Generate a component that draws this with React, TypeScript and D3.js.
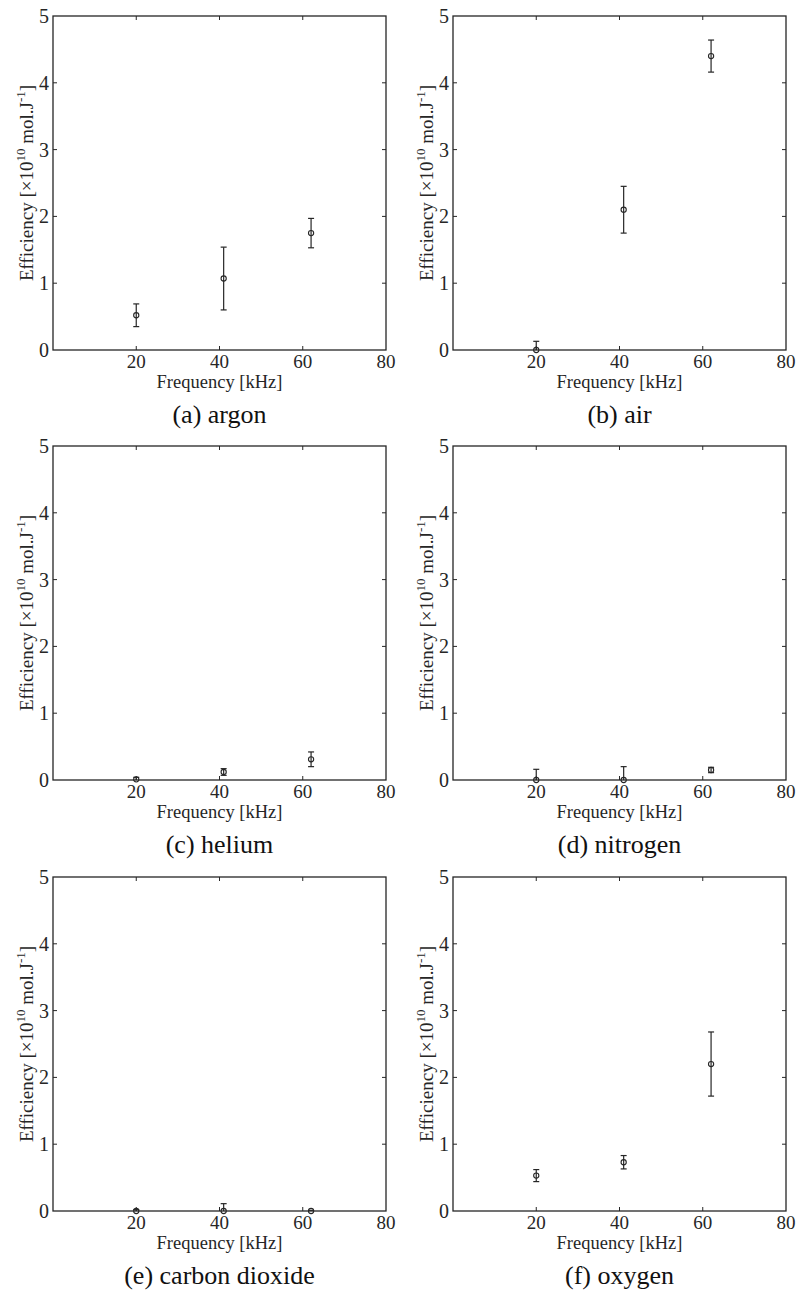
import React from "react";
import * as d3 from "d3";

// Frequencies (kHz) at which each gas was measured
const frequencies = [20, 41, 62];

// Efficiency (×10^10 mol.J^-1) and its uncertainty for each gas
const argonEff = [0.52, 1.07, 1.75];
const argonErr = [0.17, 0.47, 0.22];
const airEff = [0.0, 2.1, 4.4];
const airErr = [0.13, 0.35, 0.24];
const heliumEff = [0.01, 0.12, 0.31];
const heliumErr = [0.03, 0.05, 0.11];
const nitrogenEff = [0.0, 0.0, 0.15];
const nitrogenErr = [0.16, 0.2, 0.04];
const co2Eff = [0.0, 0.0, 0.0];
const co2Err = [0.02, 0.11, 0.01];
const oxygenEff = [0.53, 0.73, 2.2];
const oxygenErr = [0.09, 0.1, 0.48];

const captions = [
  "(a) argon",
  "(b) air",
  "(c) helium",
  "(d) nitrogen",
  "(e) carbon dioxide",
  "(f) oxygen",
];
const effSeries = [argonEff, airEff, heliumEff, nitrogenEff, co2Eff, oxygenEff];
const errSeries = [argonErr, airErr, heliumErr, nitrogenErr, co2Err, oxygenErr];

const xTicks = [20, 40, 60, 80];
const yTicks = [0, 1, 2, 3, 4, 5];
const xDomain: [number, number] = [0, 80];
const yDomain: [number, number] = [0, 5];

const W = 798;
const H = 1293;
const colLeft = [53, 453];
const rowTop = [16, 446, 877];
const plotW = 333;
const plotH = 334;
const ink = "#262626";
const SERIF = "Liberation Serif";

function Panel({ idx }: { idx: number }) {
  const left = colLeft[idx % 2];
  const top = rowTop[Math.floor(idx / 2)];
  const x = d3.scaleLinear().domain(xDomain).range([0, plotW]);
  const y = d3.scaleLinear().domain(yDomain).range([plotH, 0]);
  const eff = effSeries[idx];
  const err = errSeries[idx];
  const clipId = `clip-${idx}`;
  const tickLen = 4;
  const cap = 3;

  return (
    <g transform={`translate(${left},${top})`} fontFamily={SERIF}>
      <defs>
        <clipPath id={clipId}>
          <rect x={-10} y={0} width={plotW + 20} height={plotH} />
        </clipPath>
      </defs>
      {/* inward ticks on all four sides */}
      {xTicks
        .filter((t) => t > xDomain[0] && t < xDomain[1])
        .map((t) => (
          <g key={`xt${t}`} stroke={ink} strokeWidth={1}>
            <line x1={x(t)} x2={x(t)} y1={plotH} y2={plotH - tickLen} />
            <line x1={x(t)} x2={x(t)} y1={0} y2={tickLen} />
          </g>
        ))}
      {yTicks
        .filter((t) => t > yDomain[0] && t < yDomain[1])
        .map((t) => (
          <g key={`yt${t}`} stroke={ink} strokeWidth={1}>
            <line x1={0} x2={tickLen} y1={y(t)} y2={y(t)} />
            <line x1={plotW} x2={plotW - tickLen} y1={y(t)} y2={y(t)} />
          </g>
        ))}
      <rect x={0} y={0} width={plotW} height={plotH} fill="none" stroke={ink} strokeWidth={1.3} />

      {/* tick labels */}
      {xTicks.map((t) => (
        <text key={`xl${t}`} x={x(t)} y={plotH + 18} textAnchor="middle" fontSize={19} fill={ink}>
          {t}
        </text>
      ))}
      {yTicks.map((t) => (
        <text key={`yl${t}`} x={-4} y={y(t) + 7} textAnchor="end" fontSize={20} fill={ink}>
          {t}
        </text>
      ))}

      {/* axis titles */}
      <text x={plotW / 2} y={plotH + 38} textAnchor="middle" fontSize={18.5} fill={ink}>
        Frequency [kHz]
      </text>
      <text
        transform={`translate(-20,${plotH / 2}) rotate(-90)`}
        textAnchor="middle"
        fontSize={19}
        fill={ink}
      >
        Efficiency [×10
        <tspan dy={-8} fontSize={13}>10</tspan>
        <tspan dy={8}> mol.J</tspan>
        <tspan dy={-8} fontSize={13}>-1</tspan>
        <tspan dy={8}>]</tspan>
      </text>

      {/* error bars */}
      <g clipPath={`url(#${clipId})`} stroke={ink} strokeWidth={1.2}>
        {frequencies.map((f, i) => {
          const cx = x(f);
          const yHi = y(eff[i] + err[i]);
          const yLo = y(eff[i] - err[i]);
          return (
            <g key={`e${i}`}>
              <line x1={cx} x2={cx} y1={yHi} y2={yLo} />
              <line x1={cx - cap} x2={cx + cap} y1={yHi} y2={yHi} />
              <line x1={cx - cap} x2={cx + cap} y1={yLo} y2={yLo} />
            </g>
          );
        })}
      </g>
      {/* data markers */}
      {frequencies.map((f, i) => (
        <circle
          key={`m${i}`}
          cx={x(f)}
          cy={y(eff[i])}
          r={2.6}
          fill="none"
          stroke={ink}
          strokeWidth={1.1}
        />
      ))}

      {/* panel caption */}
      <text x={plotW / 2} y={plotH + 73} textAnchor="middle" fontSize={26} fill="#111">
        {captions[idx]}
      </text>
    </g>
  );
}

export default function App() {
  return (
    <svg
      width={W}
      height={H}
      viewBox={`0 0 ${W} ${H}`}
      style={{ position: "absolute", left: 0, top: 0, background: "#fff" }}
    >
      <rect width={W} height={H} fill="#fff" />
      {captions.map((_, i) => (
        <Panel key={i} idx={i} />
      ))}
    </svg>
  );
}
